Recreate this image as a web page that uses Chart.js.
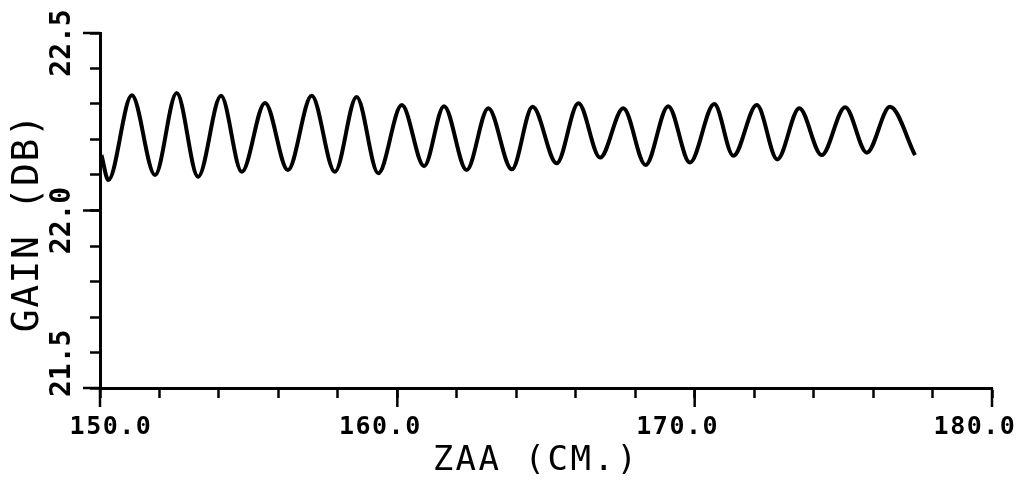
<!DOCTYPE html>
<html>
<head>
<meta charset="utf-8">
<script src="https://cdn.jsdelivr.net/npm/chart.js@4.4.1/dist/chart.umd.min.js"></script>
<style>
  html, body { margin: 0; padding: 0; background: #fff; }
  #wrap { width: 1020px; height: 483px; }
</style>
</head>
<body>
<div id="wrap"><canvas id="gain" width="1020" height="483"></canvas></div>
<script>
// ZAA position (cm) at the turning points of the trace
const zaa = [
  150.05, 150.28, 151.07, 151.85, 152.58, 153.30, 154.07, 154.77, 155.55, 156.32,
  157.12, 157.90, 158.63, 159.36, 160.15, 160.90, 161.57, 162.33, 163.06, 163.85,
  164.55, 165.36, 166.09, 166.82, 167.60, 168.35, 169.11, 169.84, 170.66, 171.30,
  172.09, 172.78, 173.52, 174.27, 175.06, 175.79, 176.57, 177.41
];
// gain (dB) read at those points
const gain = [
  22.156, 22.086, 22.325, 22.100, 22.331, 22.095, 22.323, 22.109, 22.303, 22.114,
  22.323, 22.109, 22.320, 22.105, 22.297, 22.125, 22.294, 22.114, 22.288, 22.116,
  22.292, 22.133, 22.302, 22.149, 22.288, 22.128, 22.294, 22.135, 22.300, 22.154,
  22.297, 22.144, 22.288, 22.156, 22.291, 22.163, 22.292, 22.156
];

const xMajorTicks = [150, 160, 170, 180];
const xTickLabels = ['150.0', '160.0', '170.0', '180.0'];
const yMajorTicks = [21.5, 22.0, 22.5];
const yTickLabels = ['21.5', '22.0', '22.5'];
const xTitle = 'ZAA (CM.)';
const yTitle = 'GAIN (DB)';

const monoFont = "'DejaVu Sans Mono', 'Liberation Mono', monospace";

// plotter style: long marks + labels at the major values, titles
const plotterAxes = {
  id: 'plotterAxes',
  afterDraw(chart) {
    const { ctx, chartArea: area, scales: { x, y } } = chart;
    ctx.save();
    ctx.strokeStyle = '#000';
    ctx.fillStyle = '#000';
    ctx.lineWidth = 2.5;

    xMajorTicks.forEach(v => {
      const px = x.getPixelForValue(v);
      ctx.beginPath();
      ctx.moveTo(px, area.bottom);
      ctx.lineTo(px, area.bottom + 19);
      ctx.stroke();
    });
    yMajorTicks.forEach(v => {
      const py = y.getPixelForValue(v);
      ctx.beginPath();
      ctx.moveTo(area.left, py);
      ctx.lineTo(area.left - 17, py);
      ctx.stroke();
    });

    // x tick labels
    ctx.font = 'bold 25px ' + monoFont;
    ctx.letterSpacing = '1.5px';
    ctx.textAlign = 'center';
    ctx.textBaseline = 'middle';
    xMajorTicks.forEach((v, i) => {
      const px = Math.max(x.getPixelForValue(v) - 17, area.left + 11);
      ctx.fillText(xTickLabels[i], px, area.bottom + 39);
    });

    // y tick labels, rotated
    ctx.font = 'bold 28px ' + monoFont;
    ctx.letterSpacing = '0px';
    yMajorTicks.forEach((v, i) => {
      const half = ctx.measureText(yTickLabels[i]).width / 2;
      const py = Math.min(y.getPixelForValue(v) + 10, area.bottom + 9 - half);
      ctx.save();
      ctx.translate(area.left - 37, py);
      ctx.rotate(-Math.PI / 2);
      ctx.fillText(yTickLabels[i], 0, 0);
      ctx.restore();
    });

    // axis titles
    ctx.font = '34px ' + monoFont;
    ctx.letterSpacing = '2.5px';
    ctx.fillText(xTitle, (area.left + area.right) / 2 - 10, area.bottom + 73);

    ctx.font = '38px ' + monoFont;
    ctx.letterSpacing = '1.5px';
    ctx.save();
    ctx.translate(28, (area.top + area.bottom) / 2 + 12);
    ctx.rotate(-Math.PI / 2);
    ctx.fillText(yTitle, 0, 0);
    ctx.restore();

    ctx.restore();
  }
};

new Chart(document.getElementById('gain'), {
  type: 'line',
  data: {
    datasets: [{
      data: zaa.map((v, i) => ({ x: v, y: gain[i] })),
      borderColor: '#000',
      borderWidth: 4,
      pointRadius: 0,
      fill: false,
      cubicInterpolationMode: 'monotone',
    }]
  },
  options: {
    responsive: false,
    animation: false,
    layout: { padding: { top: 33, right: 28, left: 0, bottom: 0 } },
    plugins: {
      legend: { display: false },
      tooltip: { enabled: false },
    },
    scales: {
      x: {
        type: 'linear',
        min: 150,
        max: 180,
        ticks: { stepSize: 2, display: false },
        grid: {
          drawOnChartArea: false,
          drawTicks: true,
          tickLength: 10,
          tickWidth: 2.5,
          tickColor: '#000',
        },
        border: { display: true, color: '#000', width: 3 },
        afterFit: (scale) => { scale.height = 95; },
      },
      y: {
        min: 21.5,
        max: 22.5,
        ticks: { stepSize: 0.1, display: false },
        grid: {
          drawOnChartArea: false,
          drawTicks: true,
          tickLength: 10,
          tickWidth: 2.5,
          tickColor: '#000',
        },
        border: { display: true, color: '#000', width: 3 },
        afterFit: (scale) => { scale.width = 100; },
      }
    }
  },
  plugins: [plotterAxes]
});
</script>
</body>
</html>
